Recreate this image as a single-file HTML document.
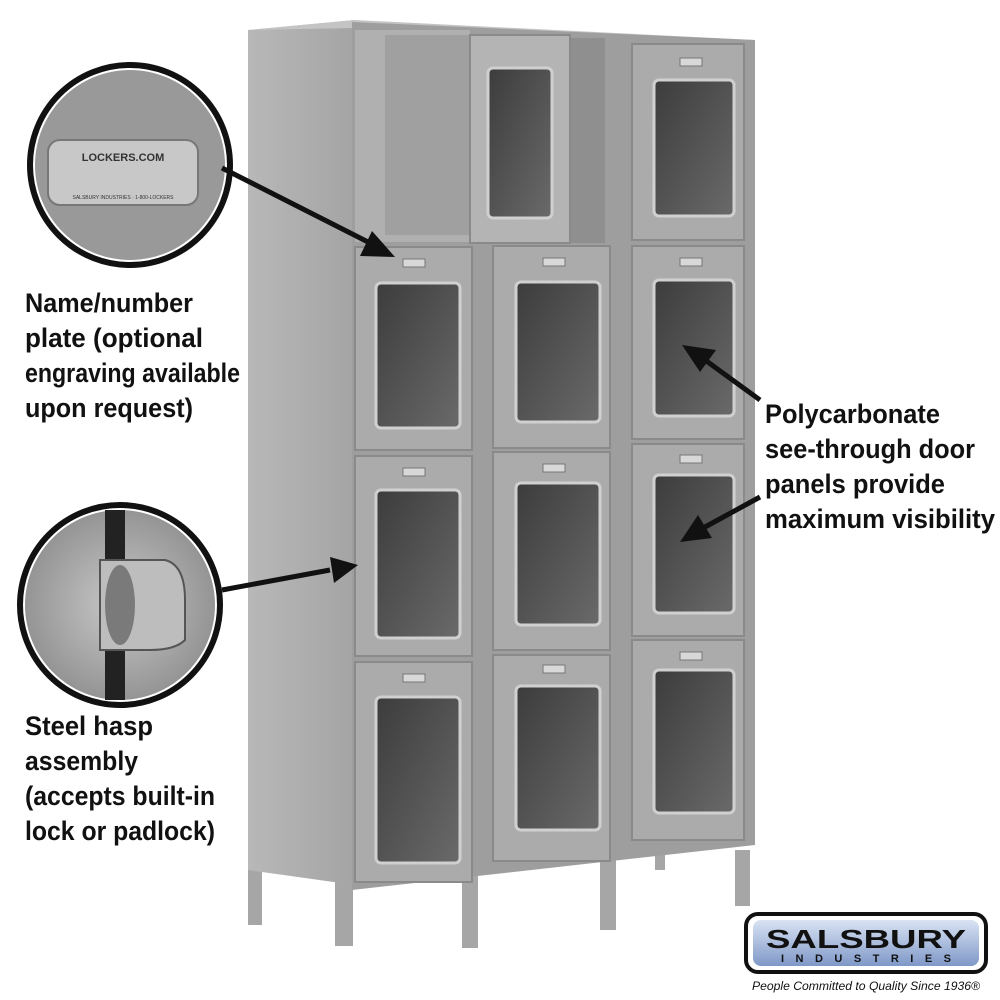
<!DOCTYPE html>
<html><head><meta charset="utf-8"><style>
html,body{margin:0;padding:0;background:#fff;width:1000px;height:1000px;overflow:hidden}
svg{display:block}
.t{font-family:"Liberation Sans",sans-serif;font-weight:bold;font-size:27px;fill:#111}
</style></head><body>
<svg width="1000" height="1000" viewBox="0 0 1000 1000" xmlns="http://www.w3.org/2000/svg">
<defs>
<linearGradient id="win" x1="0" y1="0" x2="1" y2="1"><stop offset="0" stop-color="#3c3c3c"/><stop offset="1" stop-color="#6a6a6a"/></linearGradient>
<linearGradient id="side" x1="0" y1="0" x2="1" y2="0"><stop offset="0" stop-color="#b8b8b8"/><stop offset="1" stop-color="#a4a4a4"/></linearGradient>
<linearGradient id="logo" x1="0" y1="0" x2="0" y2="1"><stop offset="0" stop-color="#d9e3f3"/><stop offset="1" stop-color="#7f98c8"/></linearGradient>
<radialGradient id="c1" cx="0.5" cy="0.5" r="0.6"><stop offset="0" stop-color="#c8c8c8"/><stop offset="1" stop-color="#8a8a8a"/></radialGradient>
</defs>
<g fill="#a6a6a6">
<rect x="248" y="870" width="14" height="55"/>
<rect x="335" y="870" width="18" height="76"/>
<rect x="462" y="870" width="16" height="78"/>
<rect x="600" y="860" width="16" height="70"/>
<rect x="735" y="850" width="15" height="56"/>
<rect x="655" y="850" width="10" height="20"/>
</g>
<polygon points="248,30 355,20 355,885 248,870" fill="url(#side)"/>
<polygon points="248,30 355,20 755,40 755,45 355,28" fill="#c4c4c4"/>
<polygon points="352,22 755,40 755,845 352,890" fill="#9e9e9e"/>
<rect x="355" y="30" width="115" height="212" fill="#b0b0b0"/>
<rect x="385" y="35" width="85" height="200" fill="#a0a0a0"/>
<rect x="495" y="38" width="110" height="205" fill="#8f8f8f"/>
<g fill="#ababab" stroke="#8a8a8a" stroke-width="2">
<rect x="355" y="247" width="117" height="203"/>
<rect x="355" y="456" width="117" height="200"/>
<rect x="355" y="662" width="117" height="220"/>
<rect x="493" y="246" width="117" height="202"/>
<rect x="493" y="452" width="117" height="198"/>
<rect x="493" y="655" width="117" height="206"/>
<rect x="632" y="44" width="112" height="196"/>
<rect x="632" y="246" width="112" height="193"/>
<rect x="632" y="444" width="112" height="192"/>
<rect x="632" y="640" width="112" height="200"/>
<rect x="470" y="35" width="100" height="208" fill="#b4b4b4"/>
</g>
<g fill="url(#win)" stroke="#d0d0d0" stroke-width="3">
<rect x="376" y="283" width="84" height="145" rx="5"/>
<rect x="376" y="490" width="84" height="148" rx="5"/>
<rect x="376" y="697" width="84" height="166" rx="5"/>
<rect x="516" y="282" width="84" height="140" rx="5"/>
<rect x="516" y="483" width="84" height="142" rx="5"/>
<rect x="516" y="686" width="84" height="144" rx="5"/>
<rect x="654" y="80" width="80" height="136" rx="5"/>
<rect x="654" y="280" width="80" height="136" rx="5"/>
<rect x="654" y="475" width="80" height="138" rx="5"/>
<rect x="654" y="670" width="80" height="143" rx="5"/>
<rect x="488" y="68" width="64" height="150" rx="5"/>
</g>
<g fill="#d8d8d8" stroke="#777" stroke-width="1">
<rect x="403" y="259" width="22" height="8"/><rect x="403" y="468" width="22" height="8"/><rect x="403" y="674" width="22" height="8"/>
<rect x="543" y="258" width="22" height="8"/><rect x="543" y="464" width="22" height="8"/><rect x="543" y="665" width="22" height="8"/>
<rect x="680" y="58" width="22" height="8"/><rect x="680" y="258" width="22" height="8"/><rect x="680" y="455" width="22" height="8"/><rect x="680" y="652" width="22" height="8"/>
</g>
<circle cx="130" cy="165" r="100" fill="#fff" stroke="#111" stroke-width="6"/>
<circle cx="130" cy="165" r="95" fill="#999"/>
<rect x="48" y="140" width="150" height="65" rx="12" fill="#c8c8c8" stroke="#777" stroke-width="2"/>
<text x="123" y="161" font-family="Liberation Sans,sans-serif" font-size="11" font-weight="bold" fill="#333" text-anchor="middle">LOCKERS.COM</text>
<text x="123" y="199" font-family="Liberation Sans,sans-serif" font-size="5" fill="#333" text-anchor="middle">SALSBURY INDUSTRIES · 1-800-LOCKERS</text>
<circle cx="120" cy="605" r="100" fill="#fff" stroke="#111" stroke-width="6"/>
<circle cx="120" cy="605" r="95" fill="url(#c1)"/>
<rect x="105" y="510" width="20" height="190" fill="#222"/>
<path d="M100,560 L165,560 Q185,565 185,600 L185,640 Q175,650 150,650 L100,650 Z" fill="#bdbdbd" stroke="#555" stroke-width="2"/>
<ellipse cx="120" cy="605" rx="15" ry="40" fill="#7a7a7a"/>
<g stroke="#111" stroke-width="5" fill="#111">
<line x1="222" y1="168" x2="370" y2="243"/>
<polygon points="395,257 360,256 372,231" stroke="none"/>
<line x1="222" y1="590" x2="330" y2="570"/>
<polygon points="358,565 330,557 334,583" stroke="none"/>
<line x1="760" y1="400" x2="705" y2="360"/>
<polygon points="682,345 716,350 700,372" stroke="none"/>
<line x1="760" y1="497" x2="705" y2="527"/>
<polygon points="680,542 698,515 712,538" stroke="none"/>
</g>
<text class="t" x="25" y="312" textLength="168" lengthAdjust="spacingAndGlyphs">Name/number</text>
<text class="t" x="25" y="347" textLength="178" lengthAdjust="spacingAndGlyphs">plate (optional</text>
<text class="t" x="25" y="382" textLength="215" lengthAdjust="spacingAndGlyphs">engraving available</text>
<text class="t" x="25" y="417" textLength="168" lengthAdjust="spacingAndGlyphs">upon request)</text>
<text class="t" x="25" y="735" textLength="128" lengthAdjust="spacingAndGlyphs">Steel hasp</text>
<text class="t" x="25" y="770" textLength="113" lengthAdjust="spacingAndGlyphs">assembly</text>
<text class="t" x="25" y="805" textLength="190" lengthAdjust="spacingAndGlyphs">(accepts built-in</text>
<text class="t" x="25" y="840" textLength="190" lengthAdjust="spacingAndGlyphs">lock or padlock)</text>
<text class="t" x="765" y="423" textLength="175" lengthAdjust="spacingAndGlyphs">Polycarbonate</text>
<text class="t" x="765" y="458" textLength="210" lengthAdjust="spacingAndGlyphs">see-through door</text>
<text class="t" x="765" y="493" textLength="180" lengthAdjust="spacingAndGlyphs">panels provide</text>
<text class="t" x="765" y="528" textLength="230" lengthAdjust="spacingAndGlyphs">maximum visibility</text>
<rect x="746" y="914" width="240" height="58" rx="12" fill="#fff" stroke="#111" stroke-width="4"/>
<rect x="753" y="920" width="226" height="46" rx="8" fill="url(#logo)"/>
<text x="866" y="948" font-family="Liberation Sans,sans-serif" font-weight="bold" font-size="26" fill="#111" text-anchor="middle" textLength="200" lengthAdjust="spacingAndGlyphs">SALSBURY</text>
<text x="866" y="962" font-family="Liberation Sans,sans-serif" font-weight="bold" font-size="11" fill="#111" text-anchor="middle" textLength="170" lengthAdjust="spacing">INDUSTRIES</text>
<text x="866" y="990" font-family="Liberation Sans,sans-serif" font-style="italic" font-size="12" fill="#111" text-anchor="middle" textLength="228" lengthAdjust="spacingAndGlyphs">People Committed to Quality Since 1936®</text>
</svg>
</body></html>
